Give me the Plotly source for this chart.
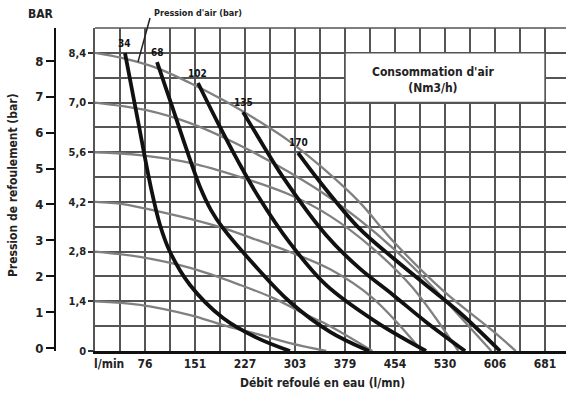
import plotly.graph_objects as go

# ---------------- data ----------------
flow_tick_vals = [75.7, 151.4, 227.1, 302.8, 378.5, 454.2, 529.9, 605.6, 681.3]
flow_tick_text = ["76", "151", "227", "303", "379", "454", "530", "606", "681"]
press_tick_vals = [0, 1.4, 2.8, 4.2, 5.6, 7.0, 8.4]
press_tick_text = ["0", "1,4", "2,8", "4,2", "5,6", "7,0", "8,4"]
bar_tick_vals = [0, 1, 2, 3, 4, 5, 6, 7, 8]

# gray curves: air pressure (bar)
air_84_x = [0, 42, 94, 144, 194, 245, 295, 345, 400, 451, 527, 603, 637]
air_84_y = [8.4, 8.25, 7.97, 7.55, 7.07, 6.51, 5.9, 5.15, 4.2, 3.1, 1.7, 0.55, 0]
air_70_x = [0, 76, 144, 209, 275, 341, 400, 451, 501, 551, 600]
air_70_y = [7.0, 6.79, 6.42, 5.89, 5.24, 4.5, 3.7, 2.9, 2.0, 1.0, 0]
air_56_x = [0, 68, 144, 220, 295, 356, 420, 480, 550]
air_56_y = [5.6, 5.52, 5.3, 4.9, 4.4, 3.8, 2.9, 1.8, 0]
air_42_x = [0, 42, 94, 144, 194, 245, 295, 356, 420, 495]
air_42_y = [4.2, 4.14, 3.94, 3.72, 3.46, 3.13, 2.79, 2.3, 1.5, 0]
air_28_x = [0, 68, 144, 220, 270, 321, 356, 420]
air_28_y = [2.8, 2.65, 2.34, 1.86, 1.49, 1.01, 0.7, 0]
air_14_x = [0, 68, 144, 194, 245, 295, 350]
air_14_y = [1.4, 1.3, 1.01, 0.73, 0.48, 0.22, 0]

# black curves: air consumption (Nm3/h)
cons_labels = ["34", "68", "102", "135", "170"]
cons_34_x = [45.4, 65.1, 84.8, 98.4, 113.6, 143.8, 193.8, 245.3, 295.2]
cons_34_y = [8.39, 6.48, 4.59, 3.55, 2.79, 1.86, 0.93, 0.37, 0]
cons_68_x = [93.9, 116.6, 137.8, 159.0, 175.6, 193.8, 245.3, 295.2, 355.8, 414.8]
cons_68_y = [8.14, 6.90, 5.72, 4.62, 3.97, 3.46, 2.34, 1.38, 0.54, 0]
cons_102_x = [155.9, 186.2, 216.5, 246.7, 295.2, 349.7, 425.4, 501.1]
cons_102_y = [7.55, 6.42, 5.35, 4.37, 3.04, 1.86, 0.82, 0]
cons_135_x = [224.1, 254.4, 284.6, 349.7, 399.7, 451.2, 501.1, 560.2]
cons_135_y = [6.73, 5.80, 4.90, 3.27, 2.34, 1.58, 0.82, 0]
cons_170_x = [307.3, 340.7, 399.7, 451.2, 501.1, 551.1, 613.2]
cons_170_y = [5.58, 4.76, 3.46, 2.62, 1.86, 1.10, 0]

FONT = "Liberation Sans Narrow, DejaVu Sans Condensed, Arial Narrow, sans-serif"
GRID = "#555555"

fig = go.Figure()

air_series = [(air_84_x, air_84_y), (air_70_x, air_70_y), (air_56_x, air_56_y),
              (air_42_x, air_42_y), (air_28_x, air_28_y), (air_14_x, air_14_y)]
for xs, ys in air_series:
    fig.add_trace(go.Scatter(x=xs, y=ys, mode="lines",
                             line=dict(color="#808080", width=2.3, shape="spline", smoothing=1.0),
                             hoverinfo="skip", showlegend=False))

cons_series = [(cons_34_x, cons_34_y), (cons_68_x, cons_68_y), (cons_102_x, cons_102_y),
               (cons_135_x, cons_135_y), (cons_170_x, cons_170_y)]
for xs, ys in cons_series:
    fig.add_trace(go.Scatter(x=xs, y=ys, mode="lines",
                             line=dict(color="#111111", width=3.8, shape="spline", smoothing=1.0),
                             hoverinfo="skip", showlegend=False))

# invisible trace so that the outer BAR axis is drawn
fig.add_trace(go.Scatter(x=[0], y=[0], yaxis="y2", mode="markers",
                         marker=dict(opacity=0), hoverinfo="skip", showlegend=False))

annotations = []
for (xs, ys), lab in zip(cons_series, cons_labels):
    annotations.append(dict(x=xs[0], y=ys[0], text=lab, showarrow=False, yshift=10,
                            xanchor="center", yanchor="middle",
                            font=dict(size=10, family=FONT, weight="bold", color="#111")))

annotations += [
    dict(xref="paper", yref="paper", x=0, y=1.043, text="BAR", showarrow=False,
         xanchor="right", yanchor="middle", xshift=1,
         font=dict(size=12, family=FONT, weight="bold", color="#222")),
    dict(xref="paper", yref="paper", x=-0.082, y=0.514, text="Pression de refoulement (bar)",
         showarrow=False, textangle=-90, xanchor="center", yanchor="middle",
         font=dict(size=12, family=FONT, weight="bold", color="#222")),
    dict(xref="x domain", yref="y domain", x=0.482, y=-0.099, text="Débit refoulé en eau (l/mn)",
         showarrow=False, xanchor="center", yanchor="middle",
         font=dict(size=12, family=FONT, weight="bold", color="#222")),
    dict(x=0, yref="y domain", y=-0.040, text="l/min", showarrow=False,
         xanchor="left", yanchor="middle", xshift=-3,
         font=dict(size=12, family=FONT, weight="bold", color="#222")),
    dict(x=512, y=7.63, text="Consommation d'air<br>(Nm3/h)", showarrow=False,
         xanchor="center", yanchor="middle",
         font=dict(size=12, family=FONT, weight="bold", color="#222")),
    dict(xref="x domain", yref="y domain", x=0.121, y=1.046, text="Pression d'air (bar)",
         showarrow=False, xanchor="left", yanchor="middle",
         font=dict(size=9, family=FONT, weight="bold", color="#222")),
]

shapes = [
    dict(type="rect", x0=378.5, x1=681.3, y0=7.0, y1=8.4, fillcolor="white",
         line=dict(color=GRID, width=1.5), layer="above"),
    dict(type="line", xref="x domain", yref="y domain", x0=0, x1=1, y0=1, y1=1,
         line=dict(color=GRID, width=1.5)),
    dict(type="line", xref="x domain", yref="y domain", x0=0.1168, y0=1.031, x1=0.0913, y1=0.895,
         line=dict(color="#222", width=1.5)),
]

fig.update_layout(
    width=566, height=396,
    margin=dict(l=55, r=0, t=28, b=45),
    paper_bgcolor="white", plot_bgcolor="white",
    font=dict(family=FONT, size=12, color="#222", weight="bold"),
    xaxis=dict(domain=[40 / 511, 1], range=[0, 713], tickvals=flow_tick_vals, ticktext=flow_tick_text,
               ticks="", showgrid=True, gridcolor=GRID, gridwidth=1.5,
               minor=dict(dtick=37.85, tick0=0, showgrid=True, gridcolor=GRID, gridwidth=1.5),
               showline=True, linecolor="#111", linewidth=2.5, zeroline=False,
               tickfont=dict(size=12, family=FONT, weight="bold")),
    yaxis=dict(domain=[0, 1], range=[0, 9.1], tickvals=press_tick_vals, ticktext=press_tick_text,
               ticks="outside", ticklen=5, tickwidth=1.5, tickcolor="#333",
               showgrid=True, gridcolor=GRID, gridwidth=1.5,
               minor=dict(dtick=0.7, tick0=0, showgrid=True, gridcolor=GRID, gridwidth=1.5),
               showline=True, linecolor=GRID, linewidth=1.5, zeroline=False,
               tickfont=dict(size=11, family=FONT, weight="bold")),
    yaxis2=dict(overlaying="y", anchor="free", position=0, side="left",
                range=[-0.084, 8.92], tickvals=bar_tick_vals, ticks="outside", ticklen=8,
                tickwidth=2, tickcolor="#111", showline=True, linecolor="#111", linewidth=2,
                showgrid=False, zeroline=False,
                tickfont=dict(size=13, family=FONT, weight="bold")),
    annotations=annotations,
    shapes=shapes,
)

fig.write_html("out.html")
